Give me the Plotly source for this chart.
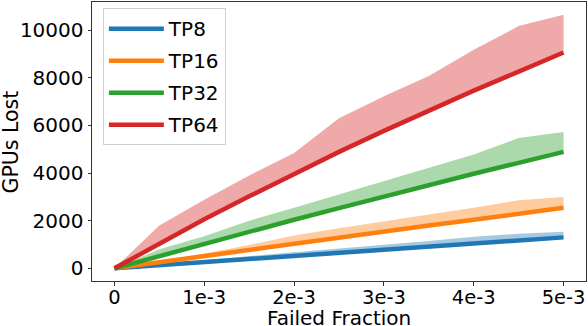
import plotly.graph_objects as go

# fraction of failed GPUs (x axis)
failed_fraction = [0, 0.0005, 0.001, 0.0015, 0.002, 0.0025, 0.003, 0.0035, 0.004, 0.0045, 0.005]
x_tick_vals = [0, 0.001, 0.002, 0.003, 0.004, 0.005]
x_tick_text = ["0", "1e-3", "2e-3", "3e-3", "4e-3", "5e-3"]
y_tick_vals = [0, 2000, 4000, 6000, 8000, 10000]

series_names = ["TP8", "TP16", "TP32", "TP64"]

# mean GPUs lost
tp8_mean = [0, 130, 262, 392, 522, 650, 780, 910, 1043, 1170, 1300]
tp16_mean = [0, 262, 525, 782, 1036, 1297, 1545, 1795, 2040, 2290, 2540]
tp32_mean = [0, 522, 1035, 1540, 2040, 2530, 3025, 3500, 3970, 4430, 4890]
tp64_mean = [0, 1040, 2060, 3025, 3960, 4890, 5770, 6640, 7460, 8260, 9060]

# upper edge of the shaded band
tp8_upper = [0, 175, 340, 510, 680, 830, 980, 1150, 1325, 1450, 1535]
tp16_upper = [0, 320, 620, 980, 1380, 1680, 1980, 2260, 2540, 2860, 3000]
tp32_upper = [0, 800, 1350, 2000, 2540, 3100, 3650, 4220, 4780, 5470, 5720]
tp64_upper = [0, 1800, 2880, 3900, 4840, 6300, 7230, 8075, 9180, 10170, 10650]

means = [tp8_mean, tp16_mean, tp32_mean, tp64_mean]
uppers = [tp8_upper, tp16_upper, tp32_upper, tp64_upper]
colors = ["#1f77b4", "#ff7f0e", "#2ca02c", "#d62728"]
fills = ["rgba(31,119,180,0.4)", "rgba(255,127,14,0.4)", "rgba(44,160,44,0.4)", "rgba(214,39,40,0.4)"]

fig = go.Figure()

# bandes ombrées
for name, m, u, fc in zip(series_names, means, uppers, fills):
    fig.add_trace(go.Scatter(x=failed_fraction, y=m, mode="lines", line=dict(width=0),
                             showlegend=False, hoverinfo="skip"))
    fig.add_trace(go.Scatter(x=failed_fraction, y=u, mode="lines", line=dict(width=0),
                             fill="tonexty", fillcolor=fc, showlegend=False, hoverinfo="skip"))

# courbes moyennes
for i, (name, m, c) in enumerate(zip(series_names, means, colors)):
    fig.add_trace(go.Scatter(x=failed_fraction, y=m, mode="lines", name=name,
                             line=dict(color=c, width=4.5), legendgroup=f"g{i}"))

font = "DejaVu Sans, sans-serif"
fig.update_layout(
    width=588, height=326,
    margin=dict(l=92, r=2, t=2, b=45),
    paper_bgcolor="white", plot_bgcolor="white",
    font=dict(family=font, size=20, color="black"),
    showlegend=True,
    legend=dict(x=0.022, y=0.978, xanchor="left", yanchor="top",
                bgcolor="rgba(255,255,255,0.8)", bordercolor="#d0d0d0", borderwidth=1,
                font=dict(size=20), tracegroupgap=3, itemwidth=55),
    annotations=[
        dict(text="Failed Fraction", x=0.5, y=-0.133, xref="paper", yref="paper",
             xanchor="center", yanchor="middle", showarrow=False, font=dict(size=20)),
        dict(text="GPUs Lost", x=-0.164, y=0.5, xref="paper", yref="paper", textangle=-90,
             xanchor="center", yanchor="middle", showarrow=False, font=dict(size=20.5)),
    ],
)
fig.update_xaxes(
    range=[-0.00025, 0.00525], tickvals=x_tick_vals, ticktext=x_tick_text,
    showgrid=False, zeroline=False, showline=True, mirror=True, linecolor="#333333", linewidth=1,
    ticks="outside", ticklen=3.5, tickcolor="#333333", automargin=False,
    ticklabelposition="outside", ticklabelstandoff=-5, tickfont=dict(size=19.5),
)
fig.update_yaxes(
    range=[-532, 11182], tickvals=y_tick_vals, tickformat="d",
    showgrid=False, zeroline=False, showline=True, mirror=True, linecolor="#333333", linewidth=1,
    ticks="outside", ticklen=3.5, tickcolor="#333333", automargin=False,
)

# la page a une marge de 8px par défaut
fig.write_html("out.html", config={"displayModeBar": False},
               post_script="document.body.style.margin='0';")
